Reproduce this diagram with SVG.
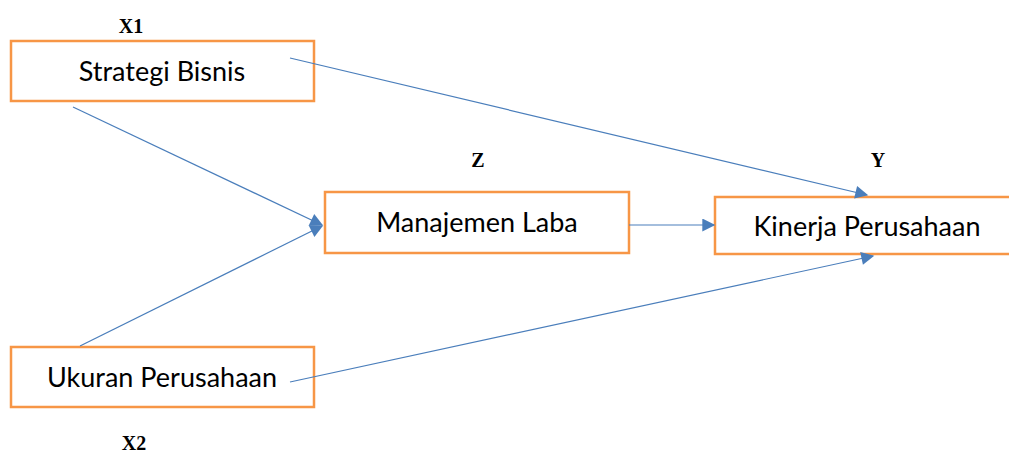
<svg xmlns="http://www.w3.org/2000/svg" width="1009" height="452" viewBox="0 0 1009 452">
<defs>
<marker id="ah" viewBox="0 0 10 10" refX="9" refY="5" markerWidth="17" markerHeight="13" markerUnits="userSpaceOnUse" orient="auto">
<path d="M0,0 L10,5 L0,10 z" fill="#4A7EBB"/>
</marker>
<style>
.box{fill:#fff;stroke:#F79646;stroke-width:2.5}
.t{font-family:Lato,"Open Sans",sans-serif;font-size:27px;fill:#000;text-anchor:middle}
.lb{font-family:"Liberation Serif",serif;font-weight:bold;font-size:20px;fill:#000;text-anchor:middle}
.c{stroke:#4A7EBB;stroke-width:1.2;fill:none;marker-end:url(#ah)}
</style>
</defs>
<rect width="1009" height="452" fill="#fff"/>
<g id="n_x1"><rect class="box" x="11" y="41" width="303" height="60"/><text class="t" x="162" y="81">Strategi Bisnis</text></g>
<g id="n_z"><rect class="box" x="325" y="192" width="304" height="61"/><text class="t" x="477" y="232">Manajemen Laba</text></g>
<g id="n_y"><rect class="box" x="715" y="197" width="300" height="57"/><text class="t" x="867" y="236">Kinerja Perusahaan</text></g>
<g id="n_x2"><rect class="box" x="11" y="347" width="303" height="60"/><text class="t" x="162" y="387">Ukuran Perusahaan</text></g>
<g id="labels">
<text class="lb" x="131" y="33">X1</text>
<text class="lb" x="478" y="167">Z</text>
<text class="lb" x="878" y="167">Y</text>
<text class="lb" x="134" y="450">X2</text>
</g>
<g id="connectors">
<line class="c" x1="290" y1="58" x2="867" y2="195"/>
<line class="c" x1="73" y1="107" x2="322" y2="225"/>
<line class="c" x1="80" y1="346" x2="322" y2="226"/>
<line class="c" x1="629" y1="225" x2="714" y2="225"/>
<line class="c" x1="290" y1="382" x2="873" y2="256"/>
</g>
</svg>
